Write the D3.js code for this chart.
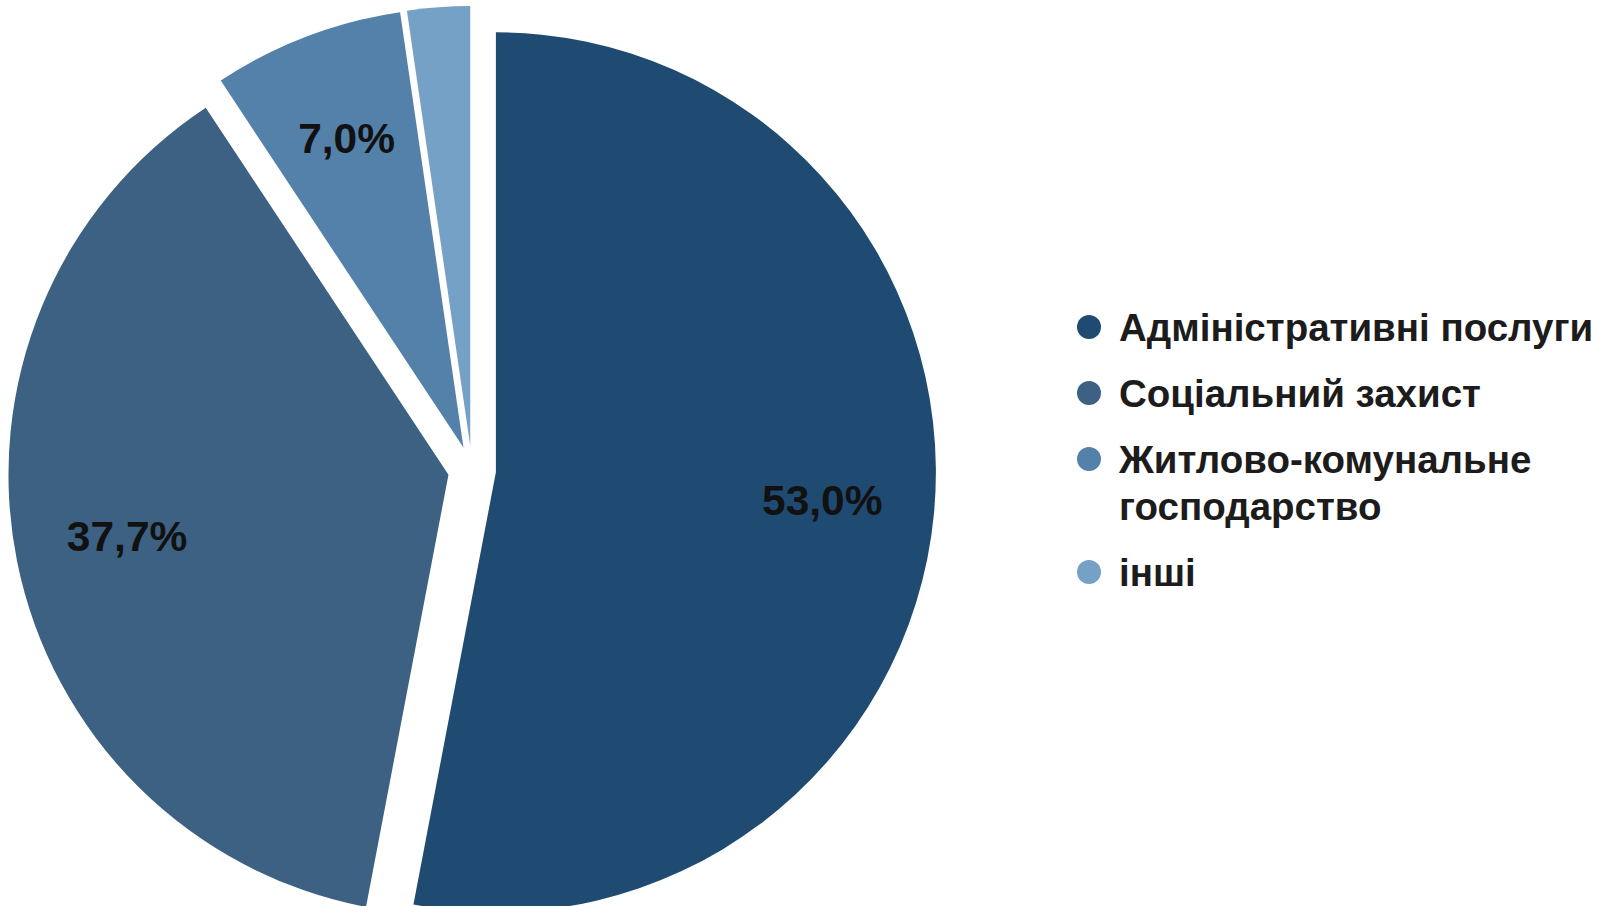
<!DOCTYPE html>
<html>
<head>
<meta charset="utf-8">
<script src="https://cdn.jsdelivr.net/npm/d3@7"></script>
<style>
  html, body { margin: 0; padding: 0; background: #fff; }
  svg { display: block; }
</style>
</head>
<body>
<svg id="chart" width="1603" height="906"></svg>
<script>
const categories = ["Адміністративні послуги", "Соціальний захист", "Житлово-комунальне господарство", "інші"];
const legendLines = [["Адміністративні послуги"], ["Соціальний захист"], ["Житлово-комунальне", "господарство"], ["інші"]];
const values = [53.0, 37.7, 7.0, 2.3];
const labels = ["53,0%", "37,7%", "7,0%", ""];
const colors = ["#1f4a72", "#3c6183", "#5381a9", "#75a1c6"];

const svg = d3.select("#chart");
const cx = 472, cy = 470, radius = 440, explode = 24;
const font = "'Liberation Sans', Arial, Helvetica, sans-serif";

const pie = d3.pie().sort(null).value(d => d)(values);
const arc = d3.arc().innerRadius(0).outerRadius(radius);
const color = d3.scaleOrdinal().domain(categories).range(colors);

const g = svg.append("g").attr("transform", `translate(${cx},${cy})`);

const slices = g.selectAll("g.slice").data(pie).enter().append("g")
  .attr("class", "slice")
  .attr("transform", d => {
    const a = (d.startAngle + d.endAngle) / 2;
    return `translate(${Math.sin(a) * explode},${-Math.cos(a) * explode})`;
  });

slices.append("path")
  .attr("d", arc)
  .attr("fill", (d, i) => color(categories[i]));

const labelArc = d3.arc().innerRadius(radius * 0.745).outerRadius(radius * 0.745);
slices.append("text")
  .attr("transform", d => `translate(${labelArc.centroid(d)})`)
  .attr("text-anchor", "middle")
  .attr("dy", "0.27em")
  .attr("font-family", font)
  .attr("font-weight", "bold")
  .attr("font-size", 42.5)
  .attr("fill", "#111")
  .text((d, i) => labels[i]);

// Legend
const legendX = 1089, textX = 1119, fontSize = 38.5, lineH = 47, itemGap = 66;
const legend = svg.append("g");
let y = 327;
legendLines.forEach((lines, i) => {
  legend.append("circle")
    .attr("cx", legendX).attr("cy", y).attr("r", 12)
    .attr("fill", color(categories[i]));
  const t = legend.append("text")
    .attr("x", textX).attr("y", y)
    .attr("font-family", font)
    .attr("font-weight", "bold")
    .attr("font-size", fontSize)
    .attr("fill", "#1c1c1c");
  lines.forEach((ln, j) => {
    t.append("tspan").attr("x", textX).attr("dy", j === 0 ? "0.36em" : lineH).text(ln);
  });
  y += (lines.length - 1) * lineH + itemGap;
});
</script>
</body>
</html>
